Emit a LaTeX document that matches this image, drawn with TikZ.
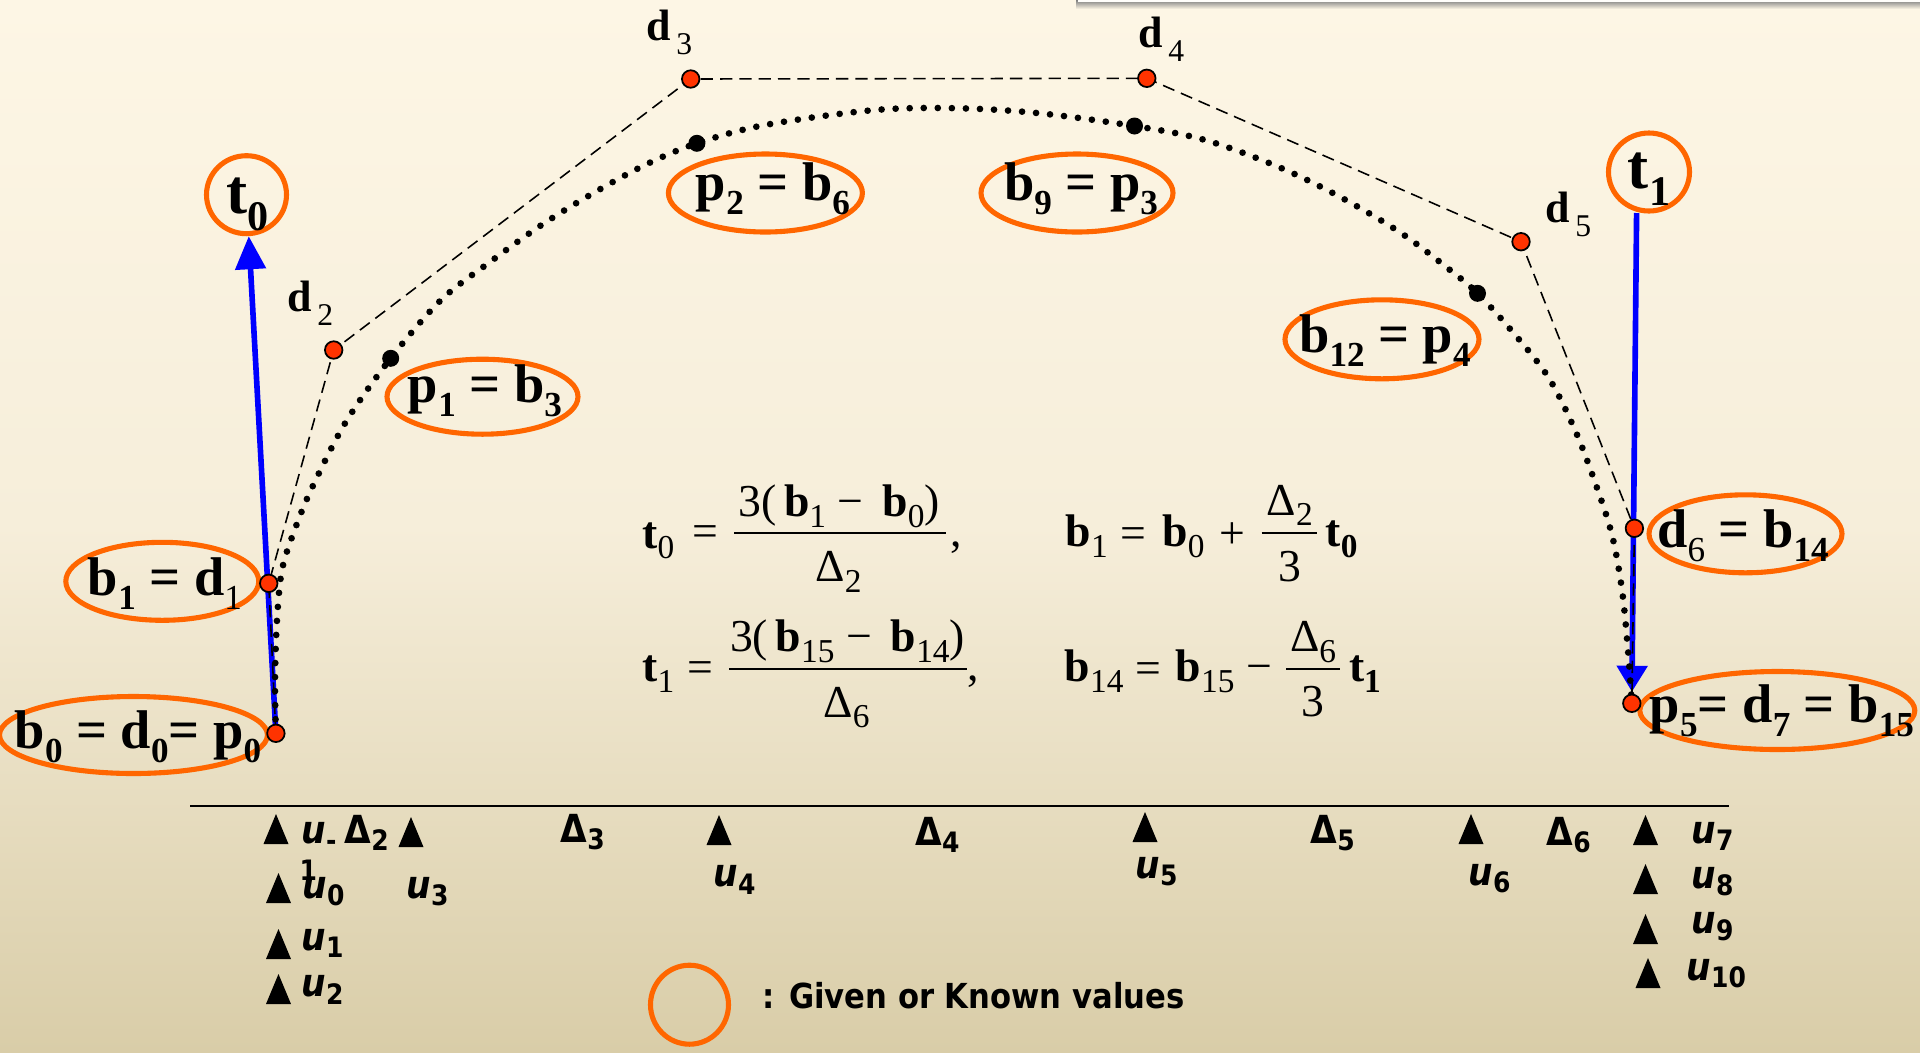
\documentclass[tikz,border=0pt]{standalone}
\usepackage{fontspec}
\setmainfont{Liberation Serif}
\newfontfamily\tah[FakeStretch=0.89]{DejaVu Sans}
\usetikzlibrary{arrows.meta,shapes.geometric}
\definecolor{bgtop}{RGB}{253,246,229}
\definecolor{bgmid}{RGB}{246,238,218}
\definecolor{bgbot}{RGB}{217,205,168}
\definecolor{ora}{RGB}{255,102,0}
\definecolor{pred}{RGB}{255,51,0}
\newcommand\sbb[1]{\raisebox{-4pt}{\fontsize{10}{10}\selectfont\bfseries #1}}
\newcommand\sbr[1]{\raisebox{-4pt}{\fontsize{10}{10}\selectfont\mdseries #1}}
\newcommand\dsub[1]{\kern1.5pt\raisebox{-4pt}{\fontsize{9}{9}\selectfont\mdseries #1}}
\newcommand\es[1]{\raisebox{-3pt}{\fontsize{9.5}{10}\selectfont #1}}
\newcommand\esb[1]{\raisebox{-3pt}{\fontsize{9.5}{10}\selectfont\bfseries #1}}
\newcommand\us[1]{\raisebox{-2.2pt}{\fontsize{8}{8}\selectfont\upshape #1}}
\newcommand\tri[2]{\fill[black] ({#1-12.5},#2) -- ({#1+12.5},#2) -- (#1,{#2-30}) -- cycle;}
\begin{document}
\begin{tikzpicture}[x=0.1mm,y=-0.1mm,
  lbl/.style={font=\fontsize{15.5}{16}\selectfont\bfseries, inner sep=0, anchor=base},
  biglbl/.style={font=\fontsize{18}{18}\selectfont\bfseries, inner sep=0, anchor=base},
  dlbl/.style={font=\fontsize{12.5}{13}\selectfont\bfseries, inner sep=0, anchor=base west},
  eqn/.style={font=\fontsize{13}{13}\selectfont, inner sep=0},
  tick/.style={font=\tah\fontsize{11}{11}\selectfont\bfseries, inner sep=0, anchor=base west},
  oval/.style={draw=ora, line width=1.45pt, ellipse, inner sep=0},
  reddot/.style={circle, fill=pred, draw=black, line width=0.5pt, minimum size=1.75mm, inner sep=0},
  blkdot/.style={circle, fill=black, minimum size=1.7mm, inner sep=0},
  ctrl/.style={line width=0.45pt, dash pattern=on 3.5pt off 2pt},
  dotline/.style={line width=1.9pt, line cap=round, dash pattern=on 0pt off 4pt},
  tanline/.style={blue, line width=1.6pt},
  fracbar/.style={line width=0.5pt}]
\useasboundingbox (0,0) rectangle (1920,1052);
\shade[top color=bgtop, bottom color=bgbot, middle color=bgmid] (0,0) rectangle (1920,1052);
% partial box at top right
\shade[top color=black!50, bottom color=bgtop] (1076,0) rectangle (1920,9);
\fill[white!85!bgtop] (1078,0) rectangle (1920,2);

% control points
\coordinate (d0) at (275.9,733.3);
\coordinate (d1) at (268.75,583.3);
\coordinate (d2) at (333.7,350);
\coordinate (d3) at (690.7,79);
\coordinate (d4) at (1146.8,78.3);
\coordinate (d5) at (1521,241.7);
\coordinate (d6) at (1634.4,528.3);
\coordinate (d7) at (1631.8,703.3);
\coordinate (p1) at (390.7,358.3);
\coordinate (p2) at (696.9,143.3);
\coordinate (p3) at (1134.5,126);
\coordinate (p4) at (1477.5,293.3);
\coordinate (t1s) at (1636.6,213);

% ovals
\node[oval, minimum width=8.0mm, minimum height=7.8mm] (t0c) at (246.5,194.7) {};
\node[oval, minimum width=8.1mm, minimum height=7.8mm] (t1c) at (1649,172) {};
\node[oval, minimum width=19.4mm, minimum height=7.8mm] (ep2) at (765.4,193) {};
\node[oval, minimum width=19.1mm, minimum height=7.5mm] (ep1) at (482.5,396.7) {};
\node[oval, minimum width=19.2mm, minimum height=7.8mm] (ep3) at (1077,193) {};
\node[oval, minimum width=19.4mm, minimum height=7.9mm] (ep4) at (1382,339.3) {};
\node[oval, minimum width=19.3mm, minimum height=7.8mm] (eb1) at (162.3,581.3) {};
\node[oval, minimum width=26.8mm, minimum height=7.7mm] (eb0) at (133.5,735) {};
\node[oval, minimum width=19.3mm, minimum height=7.8mm] (ed6) at (1745.5,533.8) {};
\node[oval, minimum width=27.5mm, minimum height=7.8mm] (ep5) at (1777.3,710.5) {};
\node[oval, minimum width=7.8mm, minimum height=7.9mm] (leg) at (689.5,1004.7) {};

% tangent arrows
\draw[tanline, -{Triangle[length=9.4pt,width=8.5pt]}] (d0) -- (t0c);
\draw[tanline, shorten >=1.15mm, -{Triangle[length=7.4pt,width=8.5pt]}] (t1s) -- (d7);

% control polygon
\draw[ctrl] (d0) -- (d1) -- (d2) -- (d3) -- (d4) -- (d5) -- (d6) -- (d7);

% curve
\draw[dotline] plot[smooth, tension=0.55] coordinates {
 (275.9,733.3) (275,680) (277,620) (282,570) (294.6,530) (312.5,486.7) (346,421.7)
 (390.7,358.3) (441,300) (490,262) (540,226) (590,195) (645,165) (696.9,143.3)
 (765,125) (875,110) (960,108.3) (1040,113.3) (1134.5,126) (1205,140) (1278,166.7)
 (1339.7,196.7) (1401,233) (1450,270) (1477.5,293.3) (1511,330) (1548,376.7)
 (1575,430) (1596,485) (1612,535) (1622,590) (1628,650) (1631.8,703.3)};

% dots
\foreach \n in {d0,d1,d2,d3,d4,d5,d6,d7} {\node[reddot] at (\n) {};}
\foreach \n in {p1,p2,p3,p4} {\node[blkdot] at (\n) {};}

% labels
\node[biglbl] (Lt0) at (248,213) {t\raisebox{-5pt}{\fontsize{12}{12}\selectfont 0}};
\node[biglbl] (Lt1) at (1649,188) {t\raisebox{-5pt}{\fontsize{12}{12}\selectfont 1}};
\node[lbl] (Lp2) at (773,200) {p\sbb{2} = b\sbb{6}};
\node[lbl] (Lp1) at (485,402) {p\sbb{1} = b\sbb{3}};
\node[lbl] (Lp3) at (1081,200) {b\sbb{9} = p\sbb{3}};
\node[lbl] (Lp4) at (1385,352) {b\sbb{12} = p\sbb{4}};
\node[lbl] (Lb1) at (165,595) {b\sbb{1} = d\sbr{1}};
\node[lbl] (Lb0) at (138,748) {b\sbb{0} = d\sbb{0}= p\sbb{0}};
\node[lbl] (Ld6) at (1743,547) {d\sbr{6} = b\sbb{14}};
\node[lbl] (Lp5) at (1782,722) {p\sbb{5}= d\sbb{7} = b\sbb{15}};

\node[dlbl] (Ld2) at (287,311) {d\dsub{2}};
\node[dlbl] (Ld3) at (646,40) {d\dsub{3}};
\node[dlbl] (Ld4) at (1138,47) {d\dsub{4}};
\node[dlbl] (Ld5) at (1545,222) {d\dsub{5}};

% equations row 1
\node[eqn, anchor=base west] (e1a) at (641.7,548) {\textbf{t}\es{0}};
\node[eqn, anchor=base] (e1b) at (705.5,546) {=};
\node[eqn, anchor=base] (e1n) at (839,516.7) {3(\,\textbf{b}\es{1} − \,\textbf{b}\es{0})};
\draw[fracbar] (734,533.3) -- (946,533.3);
\node[eqn, anchor=base] (e1d) at (838.5,581.7) {Δ\es{2}};
\node[eqn, anchor=base west] (e1c) at (950,546) {,};
\node[eqn, anchor=base west] (e1e) at (1065,546.7) {\textbf{b}\es{1}};
\node[eqn, anchor=base] (e1f) at (1133,548) {=};
\node[eqn, anchor=base west] (e1g) at (1161.7,546.7) {\textbf{b}\es{0}};
\node[eqn, anchor=base] (e1h) at (1232.5,548) {+};
\node[eqn, anchor=base west] (e1i) at (1266,515) {Δ\es{2}};
\draw[fracbar] (1261.7,533.3) -- (1316.7,533.3);
\node[eqn, anchor=base] (e1j) at (1289.6,581.7) {3};
\node[eqn, anchor=base west] (e1k) at (1325,546.7) {\textbf{t}\esb{0}};

% equations row 2
\node[eqn, anchor=base west] (e2a) at (641.7,681.7) {\textbf{t}\es{1}};
\node[eqn, anchor=base] (e2b) at (700.5,682) {=};
\node[eqn, anchor=base] (e2n) at (847.5,651.7) {3(\,\textbf{b}\es{15} − \,\textbf{b}\es{14})};
\draw[fracbar] (729.3,669.3) -- (967.3,669.3);
\node[eqn, anchor=base] (e2d) at (846.5,717.3) {Δ\es{6}};
\node[eqn, anchor=base west] (e2c) at (966.7,680) {,};
\node[eqn, anchor=base west] (e2e) at (1064,681.7) {\textbf{b}\es{14}};
\node[eqn, anchor=base] (e2f) at (1148,683) {=};
\node[eqn, anchor=base west] (e2g) at (1175,681.7) {\textbf{b}\es{15}};
\node[eqn, anchor=base] (e2h) at (1259,681) {−};
\node[eqn, anchor=base west] (e2i) at (1289.3,651.7) {Δ\es{6}};
\draw[fracbar] (1286,669.3) -- (1340,669.3);
\node[eqn, anchor=base] (e2j) at (1313.3,716) {3};
\node[eqn, anchor=base west] (e2k) at (1348.3,681.7) {\textbf{t}\esb{1}};

% parameter axis
\draw[line width=0.6pt] (190,805.7) -- (1729,805.7);
\tri{276}{844}
\tri{411}{847}
\tri{719}{845}
\tri{278.5}{903}
\tri{278.5}{959}
\tri{278.5}{1004}
\tri{1145}{842}
\tri{1471}{844}
\tri{1645.5}{845}
\tri{1645.5}{894}
\tri{1645.5}{944}
\tri{1648}{988}

\node[tick] (um1) at (301,843) {\itshape u\us{-}};
\node[tick, font=\tah\fontsize{8}{8}\selectfont\bfseries] (um1b) at (299,880) {1};
\node[tick] (u0) at (302,898) {\itshape u\us{0}};
\node[tick] (u1) at (301,950) {\itshape u\us{1}};
\node[tick] (u2) at (301,996.7) {\itshape u\us{2}};
\node[tick] (u3) at (406,898) {\itshape u\us{3}};
\node[tick] (u4) at (713,886.7) {\itshape u\us{4}};
\node[tick] (u5) at (1135,878) {\itshape u\us{5}};
\node[tick] (u6) at (1468,885) {\itshape u\us{6}};
\node[tick] (u7) at (1691,843) {\itshape u\us{7}};
\node[tick] (u8) at (1691,888) {\itshape u\us{8}};
\node[tick] (u9) at (1691,933) {\itshape u\us{9}};
\node[tick] (u10) at (1686,980) {\itshape u\us{10}};
\node[tick] (D2) at (344,843) {Δ\us{2}};
\node[tick] (D3) at (560,842) {Δ\us{3}};
\node[tick] (D4) at (914.7,845) {Δ\us{4}};
\node[tick] (D5) at (1310,843) {Δ\us{5}};
\node[tick] (D6) at (1546,845) {Δ\us{6}};

\node[anchor=base west, inner sep=0, font=\tah\fontsize{9.8}{10}\selectfont\bfseries] (legt) at (762,1008) {: Given or Known values};
\end{tikzpicture}
\end{document}
